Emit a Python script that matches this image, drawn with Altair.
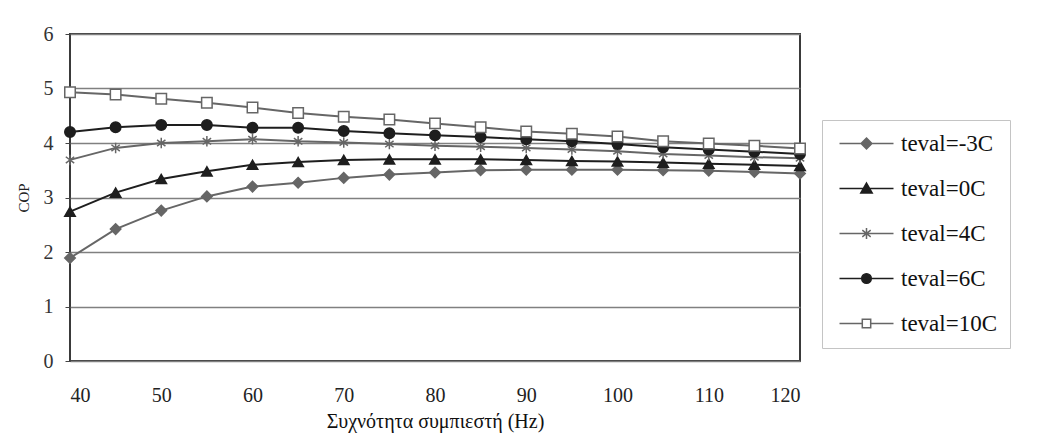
import altair as alt
import pandas as pd

# ---- data ----
freq = [40, 45, 50, 55, 60, 65, 70, 75, 80, 85, 90, 95, 100, 105, 110, 115, 120]
series_names = ["teval=-3C", "teval=0C", "teval=4C", "teval=6C", "teval=10C"]
cop_m3 = [1.89, 2.42, 2.76, 3.02, 3.20, 3.27, 3.36, 3.42, 3.46, 3.50, 3.51, 3.51, 3.51, 3.50, 3.49, 3.47, 3.44]
cop_0 = [2.74, 3.09, 3.34, 3.48, 3.60, 3.65, 3.69, 3.70, 3.70, 3.70, 3.69, 3.67, 3.66, 3.64, 3.62, 3.60, 3.58]
cop_4 = [3.69, 3.91, 4.00, 4.03, 4.07, 4.03, 4.01, 3.98, 3.95, 3.93, 3.91, 3.88, 3.85, 3.80, 3.77, 3.74, 3.72]
cop_6 = [4.20, 4.29, 4.33, 4.33, 4.28, 4.28, 4.22, 4.18, 4.14, 4.11, 4.07, 4.03, 3.98, 3.92, 3.88, 3.84, 3.80]
cop_10 = [4.93, 4.89, 4.81, 4.74, 4.65, 4.55, 4.48, 4.43, 4.36, 4.29, 4.21, 4.17, 4.12, 4.03, 3.99, 3.95, 3.90]
x_ticks = [40, 50, 60, 70, 80, 90, 100, 110, 120]
y_ticks = [0, 1, 2, 3, 4, 5, 6]

# ---- styles ----
GRAY = "#666666"
BLACK = "#1e1e1e"
stroke_range = [GRAY, BLACK, GRAY, BLACK, GRAY]
fill_range = [GRAY, BLACK, "transparent", BLACK, "white"]
asterisk = "M0,-1V1M-0.8,-0.6L0.8,0.6M-0.8,0.6L0.8,-0.6"
shape_range = ["diamond", "triangle-up", asterisk, "circle", "square"]
legend_paths = [
    "M-1,0H8M3.5,-0.9L4.4,0L3.5,0.9L2.6,0Z",
    "M-1,0H8M3.5,-0.9L4.45,0.75L2.55,0.75Z",
    "M-1,0H8M3.5,-0.9V0.9M2.8,-0.55L4.2,0.55M2.8,0.55L4.2,-0.55",
    "M-1,0H8M2.7,0A0.8,0.8,0,1,0,4.3,0A0.8,0.8,0,1,0,2.7,0Z",
    "M-1,0H2.8M4.2,0H8M2.8,-0.7H4.2V0.7H2.8Z",
]

rows = []
for name, vals in zip(series_names, [cop_m3, cop_0, cop_4, cop_6, cop_10]):
    for f, v in zip(freq, vals):
        rows.append({"series": name, "freq": f, "cop": v})
df = pd.DataFrame(rows)

FONT = "'Liberation Serif', 'Times New Roman', serif"

x_enc = alt.X(
    "freq:Q",
    scale=alt.Scale(domain=[40, 120], nice=False, zero=False),
    axis=alt.Axis(
        values=x_ticks, title="Συχνότητα συμπιεστή (Hz)", grid=False, ticks=False,
        domain=False, labelPadding=24, labelFontSize=20, labelFont=FONT,
        labelColor="#222", titleFont=FONT, titleFontSize=20, titleFontWeight="normal",
        titleColor="#111", titlePadding=6,
    ),
)
y_enc = alt.Y(
    "cop:Q",
    scale=alt.Scale(domain=[0, 6], nice=False),
    axis=alt.Axis(
        values=y_ticks, title="COP", grid=True, gridColor="#808080", gridWidth=1.3,
        ticks=True, tickSize=5, tickColor="#444", domain=False, labelPadding=12,
        labelFontSize=20, labelFont=FONT, labelColor="#333", titleFont=FONT,
        titleFontSize=15, titleFontWeight="normal", titleColor="#222", titlePadding=12,
    ),
)

dom = series_names

lines = alt.Chart(df).mark_line(strokeWidth=2).encode(
    x=x_enc, y=y_enc,
    stroke=alt.Stroke("series:N", scale=alt.Scale(domain=dom, range=stroke_range), legend=None),
)

points = alt.Chart(df).mark_point(size=110, strokeWidth=1.5, opacity=1).encode(
    x=x_enc, y=y_enc,
    shape=alt.Shape("series:N", scale=alt.Scale(domain=dom, range=shape_range), legend=None),
    stroke=alt.Stroke("series:N", scale=alt.Scale(domain=dom, range=stroke_range), legend=None),
    fill=alt.Fill("series:N", scale=alt.Scale(domain=dom, range=fill_range), legend=None),
)

lg = alt.Legend(
    title=None, orient="none", legendX=752, legendY=86, symbolSize=144,
    symbolStrokeWidth=1.5, symbolOpacity=1, labelFont=FONT, labelFontSize=23,
    labelColor="#111", labelOffset=44, rowPadding=21, padding=12,
    strokeColor="#c4c4c4", fillColor="white", labelLimit=300,
)

legend_layer = alt.Chart(df).mark_point(size=144, strokeWidth=1.5, opacity=0).encode(
    x=x_enc, y=y_enc,
    shape=alt.Shape("series:N", scale=alt.Scale(domain=dom, range=legend_paths), legend=lg, sort=dom),
    stroke=alt.Stroke("series:N", scale=alt.Scale(domain=dom, range=stroke_range), legend=lg, sort=dom),
    fill=alt.Fill("series:N", scale=alt.Scale(domain=dom, range=fill_range), legend=lg, sort=dom),
)

chart = (
    alt.layer(lines, points, legend_layer)
    .resolve_scale(shape="independent", stroke="independent", fill="independent")
    .properties(
        width=730, height=327,
        autosize=alt.AutoSizeParams(type="none"),
        padding={"left": 62, "top": 26, "right": 230, "bottom": 76},
        background="white",
    )
    .configure_view(stroke="#3a3a3a", strokeWidth=2)
)

chart.save("out.html", embed_options={"renderer": "svg", "actions": False})
